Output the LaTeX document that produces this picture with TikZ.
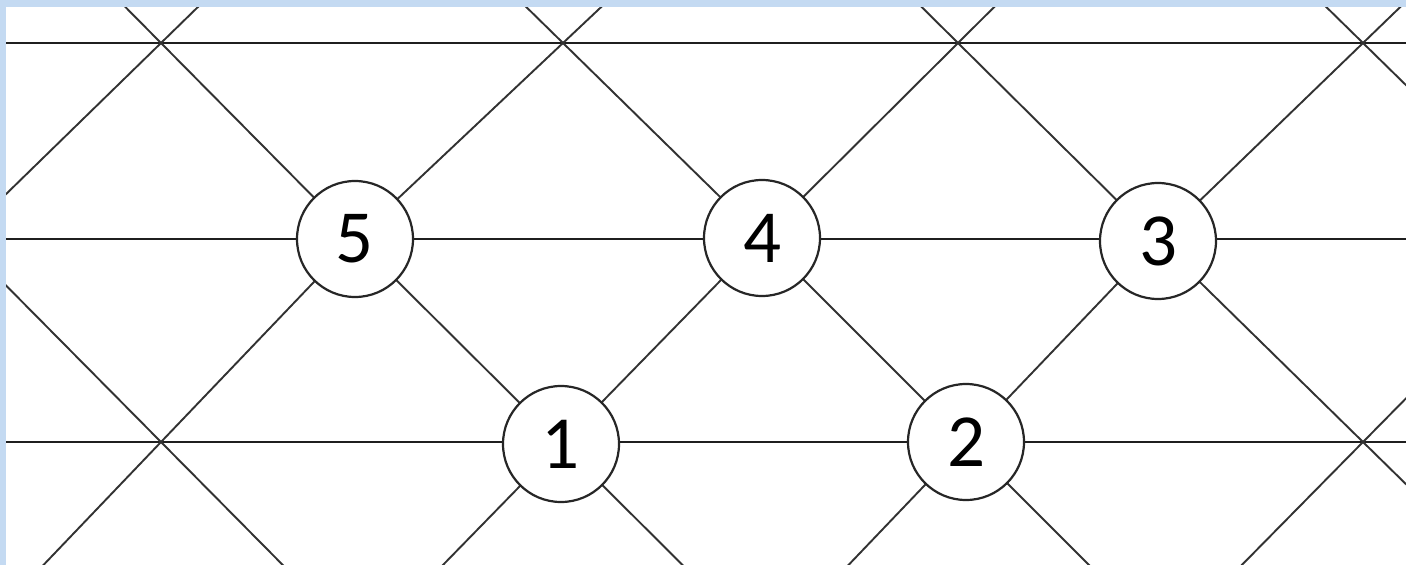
\documentclass[tikz,border=0pt]{standalone}
\usepackage{fontspec}
\setmainfont{Carlito}
\usetikzlibrary{calc,backgrounds}
\definecolor{bgblue}{RGB}{196,218,242}
\definecolor{lineg}{RGB}{50,50,50}
\begin{document}
\begin{tikzpicture}[x=1pt,y=-1pt,
  hline/.style={draw=black!88, line width=2.8pt},
  dline/.style={draw=lineg, line width=1.9pt},
  numnode/.style={circle, draw=black!85, line width=2.2pt, fill=white,
    minimum size=116pt, inner sep=0pt, font=\fontsize{75}{78}\selectfont}]
\useasboundingbox (0,0) rectangle (1406,565);
% lattice points
\coordinate (T0) at (161,43);
\coordinate (T1) at (563,43);
\coordinate (T2) at (958,43);
\coordinate (T3) at (1363,43);
\coordinate (Mm) at (-40,239);
\coordinate (M4) at (1563,239);
\coordinate (B0) at (161,442);
\coordinate (B3) at (1363,442);
\coordinate (L0) at (0,43);   \coordinate (R0) at (1406,43);
\coordinate (L1) at (0,239);  \coordinate (R1) at (1406,239);
\coordinate (L2) at (0,442);  \coordinate (R2) at (1406,442);
% nodes
\node[numnode] (n5) at (355,239) {5};
\node[numnode] (n4) at (762,238) {4};
\node[numnode] (n3) at (1158,241) {3};
\node[numnode] (n1) at (561,444) {1};
\node[numnode] (n2) at (966,442) {2};
\begin{scope}[on background layer]
\fill[bgblue] (0,0) rectangle (1406,565);
\fill[white] (6,7) rectangle (1406,565);
\clip (6,7) rectangle (1406,565);
\draw[hline] (L0) -- (R0);
\draw[hline] (L1) -- (R1);
\draw[hline] (L2) -- (R2);
% down-right diagonals
\draw[dline] (Mm) -- (B0) -- ($(Mm)!2!(B0)$);
\draw[dline] ($(n5.center)!2!(T0)$) -- (T0) -- (n5.center) -- (n1.center) -- ($(n5.center)!2!(n1.center)$);
\draw[dline] ($(n4.center)!2!(T1)$) -- (T1) -- (n4.center) -- (n2.center) -- ($(n4.center)!2!(n2.center)$);
\draw[dline] ($(n3.center)!2!(T2)$) -- (T2) -- (n3.center) -- (B3) -- ($(n3.center)!2!(B3)$);
\draw[dline] ($(M4)!2!(T3)$) -- (T3) -- (M4);
% down-left diagonals
\draw[dline] ($(Mm)!2!(T0)$) -- (T0) -- (Mm);
\draw[dline] ($(n5.center)!2!(T1)$) -- (T1) -- (n5.center) -- (B0) -- ($(n5.center)!2!(B0)$);
\draw[dline] ($(n4.center)!2!(T2)$) -- (T2) -- (n4.center) -- (n1.center) -- ($(n4.center)!2!(n1.center)$);
\draw[dline] ($(n3.center)!2!(T3)$) -- (T3) -- (n3.center) -- (n2.center) -- ($(n3.center)!2!(n2.center)$);
\draw[dline] (M4) -- (B3) -- ($(M4)!2!(B3)$);
\end{scope}
\end{tikzpicture}
\end{document}
